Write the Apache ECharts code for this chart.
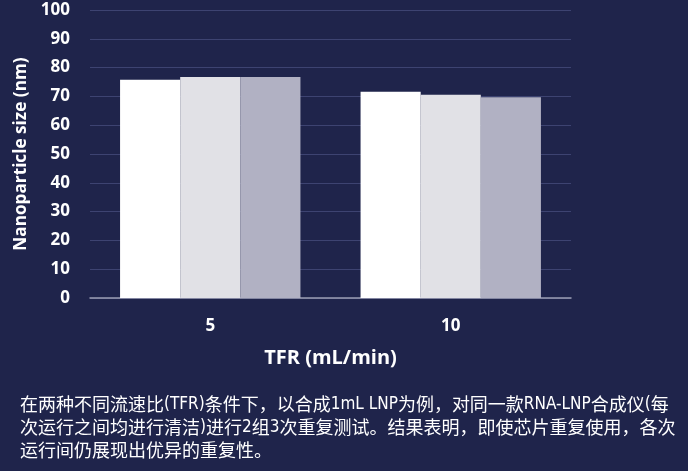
<!DOCTYPE html>
<html>
<head>
<meta charset="utf-8">
<script src="https://cdn.jsdelivr.net/npm/echarts@6/dist/echarts.min.js"></script>
<style>
  html, body { margin: 0; padding: 0; background: #1f244b; }
  #main { width: 688px; height: 471px; }
</style>
</head>
<body>
<div id="main"></div>
<script>
// 数据
var categories = ['5', '10'];
var run1 = [75.8, 71.6];
var run2 = [76.7, 70.6];
var run3 = [76.7, 69.7];
var yTicks = [0, 100, 10]; // min, max, interval

var caption = [
  '在两种不同流速比(TFR)条件下，以合成1mL LNP为例，对同一款RNA-LNP合成仪(每',
  '次运行之间均进行清洁)进行2组3次重复测试。结果表明，即使芯片重复使用，各次',
  '运行间仍展现出优异的重复性。'
];

// 半角字符用窄字体，模拟原图的排版
function toRich(line) {
  return line.replace(/[\x20-\x7e]+/g, function (s) { return '{l|' + s + '}'; });
}

var chart = echarts.init(document.getElementById('main'));

var labelFont = '"Open Sans", "Noto Sans", sans-serif';

var option = {
  backgroundColor: '#1f244b',
  animation: false,
  grid: { left: 90, right: 117, top: 10, bottom: 173 },
  xAxis: {
    type: 'category',
    data: categories,
    name: 'TFR (mL/min)',
    nameLocation: 'middle',
    nameGap: 50,
    nameTextStyle: { color: '#ffffff', fontSize: 20, fontWeight: 'bold', fontFamily: labelFont },
    axisLine: { lineStyle: { color: '#9b9db3', width: 1.5 } },
    axisTick: { show: false },
    axisLabel: { color: '#ffffff', fontSize: 17, fontWeight: 'bold', margin: 20, fontFamily: labelFont }
  },
  yAxis: {
    type: 'value',
    min: yTicks[0],
    max: yTicks[1],
    interval: yTicks[2],
    name: 'Nanoparticle size (nm)',
    nameLocation: 'middle',
    nameGap: 59,
    nameTextStyle: { color: '#ffffff', fontSize: 17.2, fontWeight: 'bold', fontFamily: labelFont },
    axisLine: { show: false },
    axisTick: { show: false },
    axisLabel: { color: '#ffffff', fontSize: 17, fontWeight: 'bold', margin: 20, fontFamily: labelFont },
    splitLine: { lineStyle: { color: '#3d4371', width: 1 } }
  },
  series: [
    { name: 'run1', type: 'bar', data: run1, barGap: '0%', barCategoryGap: '25%',
      itemStyle: { color: '#ffffff' } },
    { name: 'run2', type: 'bar', data: run2,
      itemStyle: { color: '#e1e1e6' } },
    { name: 'run3', type: 'bar', data: run3,
      itemStyle: { color: '#b1b1c3' } }
  ],
  graphic: [
    {
      type: 'text',
      left: 20,
      top: 393,
      style: {
        text: caption.map(toRich).join('\n'),
        fill: '#ffffff',
        fontSize: 18,
        lineHeight: 23,
        fontFamily: '"Noto Sans CJK SC", sans-serif',
        rich: {
          l: {
            fill: '#ffffff',
            fontSize: 17,
            lineHeight: 23,
            fontFamily: '"DejaVu Sans Condensed", "Liberation Mono", monospace'
          }
        }
      }
    }
  ]
};

chart.setOption(option);
</script>
</body>
</html>
